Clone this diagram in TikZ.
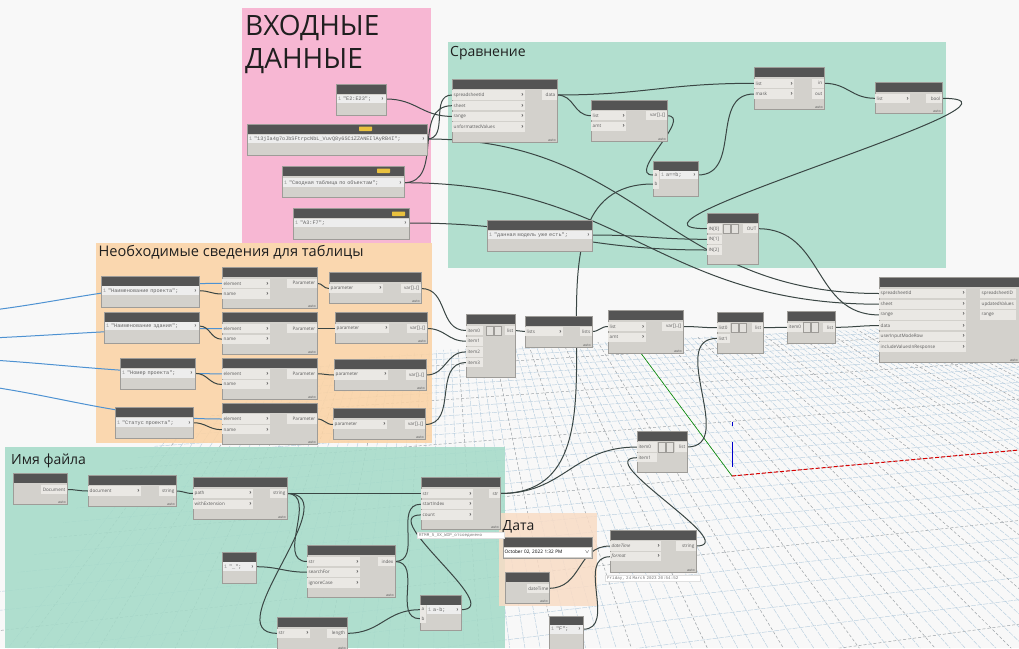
\documentclass[tikz,border=0pt]{standalone}
\usepackage{fontspec}
\setmainfont{Open Sans}
\newfontfamily\monof{Liberation Mono}
\usetikzlibrary{calc}
\definecolor{bgc}{HTML}{F8F8F8}
\definecolor{pinkc}{HTML}{F7B7D3}
\definecolor{tealc}{HTML}{B2DFCF}
\definecolor{orgc}{HTML}{FBD3A5}
\definecolor{teal2}{HTML}{A6DBC9}
\definecolor{datec}{HTML}{F9DCC5}
\definecolor{nhead}{HTML}{545454}
\definecolor{nbody}{HTML}{D3D1CC}
\definecolor{nport}{HTML}{EAE8E4}
\definecolor{codec}{HTML}{EDEDED}
\definecolor{nedge}{HTML}{9E9C98}
\definecolor{wirec}{HTML}{3A4644}
\definecolor{bluew}{HTML}{4E92D2}
\definecolor{gridminor}{HTML}{B8CEDF}
\definecolor{gridmajor}{HTML}{9DA3A8}
\definecolor{tagc}{HTML}{E9C13E}
\definecolor{txtc}{HTML}{5A5A5A}
\pgfdeclarelayer{bg}\pgfdeclarelayer{wires}\pgfsetlayers{bg,wires,main}
\tikzset{
 body/.style={draw=nedge, fill=nbody, line width=0.5pt, inner sep=0pt, anchor=north west},
 inport/.style={fill=nport, inner xsep=1.5pt, inner ysep=0pt, minimum height=9.4pt, font=\fontsize{4.6}{5}\selectfont, text=txtc, anchor=west, align=left},
 outport/.style={fill=nport, inner xsep=1.5pt, inner ysep=0pt, minimum height=9.4pt, font=\fontsize{4.6}{5}\selectfont, text=txtc, anchor=east, align=right},
 codeline/.style={fill=codec, inner xsep=1.5pt, inner ysep=0pt, minimum height=8.6pt, font=\monof\fontsize{5.2}{6}\selectfont, text=black!62, anchor=west, align=left},
 autol/.style={font=\fontsize{3.6}{4}\selectfont, text=txtc, inner sep=0.5pt, anchor=south east},
 wire/.style={draw=wirec, line width=1pt, out=0, in=180, looseness=1.15},
 bwire/.style={wire, draw=bluew, looseness=1},
 gtitle/.style={font=\fontsize{14}{16}\selectfont, text=black!88, anchor=base west, inner sep=0pt},
 preview/.style={fill=white, draw=black!12, font=\monof\fontsize{4.2}{5}\selectfont, text=black!55, inner xsep=2pt, inner ysep=1.2pt, anchor=north west, align=left},
 gridmin/.style={draw=gridminor, line width=0.45pt, dash pattern=on 5pt off 1.2pt},
 gridmaj/.style={draw=gridmajor, line width=0.5pt, dash pattern=on 3pt off 2pt},
}
\newcommand\chev{{\fontsize{6}{5}\selectfont\bfseries ›}}
\newcommand\dn[6]{%
  \pgfmathsetmacro\nw{#4-#2}\pgfmathsetmacro\nh{#5-#3}%
  \node[body, minimum width=\nw pt, minimum height=\nh pt] (#1) at (#2,#3) {};
  \fill[nhead] (#1.north west) rectangle ([yshift=-10pt]#1.north east);
  \draw[nedge,line width=0.5pt] (#1.north west) rectangle (#1.south east);
  \ifnum#6=1 \node[autol] (#1-auto) at ([shift={(-1pt,0.6pt)}]#1.south east) {auto};\fi
}
\newcommand\ip[5]{\node[inport, text width=#4pt] (#1) at (#2,#3) {#5\hfill\chev};}
\newcommand\ipn[5]{\node[inport, text width=#4pt] (#1) at (#2,#3) {#5};}
\newcommand\op[5]{\node[outport, text width=#4pt] (#1) at (#2,#3) {#5};}
\newcommand\cl[5]{\node[codeline, text width=#4pt] (#1) at (#2,#3) {{\color{black!40}1}\ #5\hfill\chev};}
\newcommand\sqb[2]{\filldraw[fill=nport!70!nbody, draw=nedge, line width=0.3pt] (#1,{#2-4.7}) rectangle ({#1+7},{#2+4.7});}
\newcommand\tagb[2]{\fill[tagc, rounded corners=0.6pt] (#1,#2) rectangle ({#1+13},{#2+4.5});}
\begin{document}
\begin{tikzpicture}[x=1pt,y=-1pt]
\useasboundingbox (0,0) rectangle (1019,648);
% ================= background =================
\begin{pgfonlayer}{bg}
\fill[bgc] (0,0) rectangle (1019,648);
\begin{scope}
 \clip (0,592) -- (100,482) -- (180,430) -- (250,398) -- (330,362) -- (440,350) -- (720,336) -- (1019,322) -- (1019,648) -- (0,648) -- cycle;
 \foreach \k in {-11,...,18}{
   \pgfmathsetmacro\gu{\k*0.03/(1+\k*0.03)}
   \pgfmathsetmacro\gpx{732-293*\gu}
   \pgfmathsetmacro\gpy{476-396*\gu}
   \pgfmathtruncatemacro\gm{mod(abs(\k),5)}
   \ifnum\gm=0 \def\gs{gridmaj}\else\def\gs{gridmin}\fi
   \draw[\gs] ({\gpx-0.3*(5100-\gpx)},{\gpy-0.3*(80-\gpy)}) -- (5100,80);
 }
 \foreach \j in {-56,...,57}{
   \pgfmathsetmacro\gu{\j*0.00228/(1+\j*0.00228)}
   \pgfmathsetmacro\gqx{732+4368*\gu}
   \pgfmathsetmacro\gqy{476-396*\gu}
   \pgfmathtruncatemacro\gm{mod(abs(\j),5)}
   \ifnum\gm=0 \def\gs{gridmaj}\else\def\gs{gridmin}\fi
   \draw[\gs] (439,80) -- ({439+2*(\gqx-439)},{80+2*(\gqy-80)});
 }
\end{scope}
% axes
\draw[draw=green!55!black, line width=0.6pt] (640,352) -- (732,476);
\draw[draw=red!85!black, line width=1pt, dash pattern=on 4pt off 2pt] (732,476) -- (1019,450);
\draw[draw=blue!80!black, line width=1pt] (732,442) -- (732,467);
\draw[draw=blue!80!black, line width=0.8pt] (732,422) -- (732,425.5);
% groups
\fill[pinkc] (242,8) rectangle (431,243);
\fill[tealc] (448,42) rectangle (946,268);
\fill[orgc, fill opacity=0.88] (96,243) rectangle (432,443);
\fill[teal2, fill opacity=0.88] (5,447) rectangle (505,648);
\fill[datec, fill opacity=0.85] (499,513) rectangle (597,606);
\end{pgfonlayer}
% titles
\node[gtitle, font=\fontsize{28}{30}\selectfont] (t1) at (245,35) {ВХОДНЫЕ};
\node[gtitle, font=\fontsize{28}{30}\selectfont] (t2) at (245,68.3) {ДАННЫЕ};
\node[gtitle] (t3) at (450,56.7) {Сравнение};
\node[gtitle, font=\fontsize{14.6}{16}\selectfont] (t4) at (98.5,256.7) {Необходимые сведения для таблицы};
\node[gtitle] (t5) at (11,464) {Имя файла};
\node[gtitle] (t6) at (502.5,530) {Дата};
% ================= nodes: input data =================
\dn{e2}{336}{84}{386}{115}{0}
\cl{e2l}{336.5}{99}{46}{"E2:E23";}
\dn{idn}{247}{124}{427}{155}{0}
\tagb{359}{126.5}
\cl{idl}{247.5}{139}{176}{"13jIa4g7oJbSFtrpcNbL\_VuvQ8y6SC1ZZANEIlAyRB4I";}
\dn{sv}{282}{166}{404}{197}{0}
\tagb{377}{168.5}
\cl{svl}{282.5}{182.7}{118}{"Сводная таблица по объектам";}
\dn{a3}{293}{208}{409}{239}{0}
\tagb{392}{211.5}
\cl{a3l}{293.5}{223}{112}{"A3:F7";}
% ================= comparison =================
\dn{gv}{452}{79}{557}{142}{1}
\ip{gvs}{452}{95}{70}{spreadsheetId}
\ip{gvsh}{452}{105.7}{70}{sheet}
\ip{gvr}{452}{116.4}{70}{range}
\ip{gvu}{452}{127.1}{70}{unformattedValues}
\op{gvd}{557}{95}{12}{data}
\dn{lf}{591}{100}{667}{141}{1}
\ip{lfl}{591}{115.7}{32}{list}
\ip{lfam}{591}{126.4}{32}{amt}
\op{lfo}{667}{115.7}{18}{var[]..[]}
\dn{eq}{653}{161}{698}{196}{0}
\ipn{eqa}{653}{175}{2.5}{a}
\ipn{eqb}{653}{184}{2.5}{b}
\cl{eqo}{659.5}{175}{35}{a==b;}
\dn{fb}{754}{67}{824}{109}{1}
\ip{fbl}{754}{83.3}{37}{list}
\ip{fbm}{754}{94}{37}{mask}
\op{fbi}{824}{83.3}{9}{in}
\op{fbo}{824}{94}{9}{out}
\dn{lb}{875}{82}{942}{113}{1}
\ip{lbl}{875}{98.3}{32}{list}
\op{lbo}{942}{98.3}{13}{bool}
\dn{dm}{487}{220}{592}{251}{0}
\cl{dml}{487.5}{235}{101}{"данная модель уже есть";}
\dn{ifn}{707}{213}{758}{264}{0}
\ipn{if0}{707}{228.7}{12}{IN[0]}
\ipn{if1}{707}{239.3}{12}{IN[1]}
\ipn{if2}{707}{250}{12}{IN[2]}
\sqb{723.5}{228.7}\sqb{731.5}{228.7}
\op{ifo}{758}{228.7}{12}{OUT}
% ================= necessary info =================
\dn{c1}{101}{276}{199}{307}{0}
\cl{c1l}{101.5}{290.7}{94}{"Наименование проекта";}
\dn{c2}{104}{312}{199}{343}{0}
\cl{c2l}{104.5}{326}{91}{"Наименование здания";}
\dn{c3}{120}{358}{195}{389}{0}
\cl{c3l}{120.5}{373.3}{71}{"Номер проекта";}
\dn{c4}{115}{407}{193}{438}{0}
\cl{c4l}{115.5}{422.7}{74}{"Статус проекта";}
\dn{g1}{222}{267}{317}{308}{1}
\ip{g1e}{222}{283.3}{45}{element}
\ip{g1n}{222}{294}{45}{name}
\op{g1o}{317}{283.3}{27}{Parameter}
\dn{g2}{222}{312}{317}{354}{1}
\ip{g2e}{222}{328.5}{45}{element}
\ip{g2n}{222}{339.2}{45}{name}
\op{g2o}{317}{328.5}{27}{Parameter}
\dn{g3}{222}{358}{317}{399}{1}
\ip{g3e}{222}{373.8}{45}{element}
\ip{g3n}{222}{384.5}{45}{name}
\op{g3o}{317}{373.8}{27}{Parameter}
\dn{g4}{222}{403}{317}{444}{1}
\ip{g4e}{222}{419}{45}{element}
\ip{g4n}{222}{429.7}{45}{name}
\op{g4o}{317}{419}{27}{Parameter}
\dn{pa}{329}{272}{421}{303}{1}
\ip{pai}{329}{288.5}{51}{parameter}
\op{pao}{421}{288.5}{17}{var[]..[]}
\dn{pb}{335}{312}{427}{343}{1}
\ip{pbi}{335}{328.5}{51}{parameter}
\op{pbo}{427}{328.5}{17}{var[]..[]}
\dn{pc}{334}{359}{426}{390}{1}
\ip{pci}{334}{375}{51}{parameter}
\op{pco}{426}{375}{17}{var[]..[]}
\dn{pd}{333}{408}{425}{439}{1}
\ip{pdi}{333}{424.5}{51}{parameter}
\op{pdo}{425}{424.5}{17}{var[]..[]}
% ================= middle chain =================
\dn{lc}{466}{314}{515}{377}{0}
\ipn{lc0}{466}{330.5}{14}{item0}
\ipn{lc1}{466}{341.2}{14}{item1}
\ipn{lc2}{466}{351.9}{14}{item2}
\ipn{lc3}{466}{362.6}{14}{item3}
\sqb{486.5}{330.5}\sqb{494.5}{330.5}
\op{lco}{515}{330.5}{7}{list}
\dn{tr}{525}{316}{592}{347}{1}
\ip{tri}{525}{331.5}{35}{lists}
\op{tro}{592}{331.5}{9}{lists}
\dn{lm}{608}{310}{683}{353}{1}
\ip{lml}{608}{326.5}{34.5}{list}
\ip{lmam}{608}{337.2}{34.5}{amt}
\op{lmo}{683}{326.5}{18}{var[]..[]}
\dn{ll}{717}{312}{763}{353}{0}
\ipn{ll0}{717}{327.7}{10}{list0}
\ipn{ll1}{717}{338.4}{10}{list1}
\sqb{731.5}{327.7}\sqb{739.5}{327.7}
\op{llo}{763}{327.7}{8}{list}
\dn{it}{787}{311}{835}{343}{0}
\ipn{iti}{787}{327.3}{13}{item0}
\sqb{803.5}{327.3}\sqb{811.5}{327.3}
\op{ito}{835}{327.3}{9}{list}
\dn{setv}{879}{277}{1019}{362}{1}
\ip{sts}{879}{293.5}{84}{spreadsheetId}
\ip{stsh}{879}{304.2}{84}{sheet}
\ip{str}{879}{314.9}{84}{range}
\ip{std}{879}{325.6}{84}{data}
\ip{stu}{879}{336.3}{84}{userInputModeRow}
\ip{sti}{879}{347}{84}{includeValuesInResponse}
\node[outport, anchor=west, align=left, text width=33pt] (sto1) at (980,293.5) {spreadsheetID};
\node[outport, anchor=west, align=left, text width=33pt] (sto2) at (980,304.2) {updatedValues};
\node[outport, anchor=west, align=left, text width=33pt] (sto3) at (980,314.9) {range};
% ================= bottom: list + date =================
\dn{lcb}{637}{431}{687}{472}{0}
\ipn{lcb0}{637}{447}{17}{item0}
\ipn{lcb1}{637}{457.7}{17}{item1}
\sqb{658.5}{447}\sqb{666.5}{447}
\op{lcbo}{687}{447}{9}{list}
\dn{df}{610}{530}{696}{572}{1}
\ip{dfd}{610}{546}{48}{\textit{dateTime}}
\ip{dff}{610}{556.7}{48}{\textit{format}}
\op{dfo}{696}{546}{17}{string}
\node[preview, text width=91pt] (dfp) at (605,575) {Friday, 24 March 2023 20:54:52};
\dn{dp}{503}{537}{592}{558}{0}
\node[fill=white, inner xsep=1pt, inner ysep=0pt, minimum height=8.5pt, anchor=west, align=left, text width=85pt, font=\fontsize{4.7}{5}\selectfont] (dpf) at (503.5,552.5) {October 02, 2022 1:32 PM\hfill$\scriptscriptstyle\vee$};
\dn{dnow}{505}{572}{549}{603}{1}
\op{dno}{549}{588.3}{19}{dateTime}
\dn{fc}{549}{616}{583}{650}{0}
\cl{fcl}{549.5}{629.3}{30}{"F";}
% ================= file name =================
\dn{dc}{13}{473}{67}{504}{1}
\op{dco}{67}{489.5}{23}{Document}
\dn{ds}{88}{475}{176}{506}{1}
\ip{dsi}{88}{491}{50}{document}
\op{dso}{176}{491}{14}{string}
\dn{fn}{193}{477}{287}{519}{1}
\ip{fnp}{193}{493.5}{57}{path}
\ip{fnw}{193}{504.2}{57}{withExtension}
\op{fno}{287}{493.5}{14}{string}
\dn{uc}{222}{552}{256}{583}{0}
\cl{ucl}{222.5}{566.7}{30}{"\_";}
\dn{io}{307}{545}{395}{597}{1}
\ip{ios}{307}{561.5}{50}{str}
\ip{iof}{307}{572.2}{50}{searchFor}
\ip{ioi}{307}{582.9}{50}{ignoreCase}
\op{ioo}{395}{561.5}{14}{index}
\dn{ss}{421}{477}{500}{529}{1}
\ip{sss}{421}{493.5}{49}{str}
\ip{ssi}{421}{504.2}{49}{startIndex}
\ip{ssc}{421}{514.9}{49}{count}
\op{sso}{500}{493.5}{8}{str}
\node[preview, text width=83pt] (ssp) at (417,532) {RTMM\_5\_XX\_WIP\_отсоединено};
\dn{ab}{420}{595}{461}{630}{0}
\ipn{aba}{420}{609.7}{2.5}{a}
\ipn{abb}{420}{618.7}{2.5}{b}
\cl{abo}{426.5}{609.7}{31}{a-b;}
\dn{ln}{277}{617}{347}{650}{1}
\ip{lni}{277}{633.3}{30}{str}
\op{lno}{347}{633.3}{17}{length}
% ================= wires =================
\coordinate (bs1) at (-100,316);
\coordinate (bs2) at (-100,340);
\coordinate (bs3) at (-100,357);
\coordinate (bs4) at (-100,380);
\begin{pgfonlayer}{wires}
\draw[bwire] (bs1) to (g1e.west);
\draw[bwire] (bs2) to (g2e.west);
\draw[bwire] (bs3) to (g3e.west);
\draw[bwire] (bs4) to (g4e.west);
% input data
\draw[wire] (e2l.east) to (gvr.west);
\draw[wire] (idl.east) to (gvs.west);
\draw[wire] (svl.east) to (gvsh.west);
\draw[wire] (idl.east) to (sts.west);
\draw[wire] (svl.east) to (stsh.west);
\draw[wire] (a3l.east) to (if2.west);
\draw[wire] (dml.east) to (if1.west);
\draw[wire] (ifo.east) to (str.west);
% comparison
\draw[wire] (gvd.east) to (lfl.west);
\draw[wire] (gvd.east) to (fbl.west);
\draw[wire] (lfo.east) to (eqa.west);
\draw[wire] (eqo.east) to (fbm.west);
\draw[wire] (fbi.east) to (lbl.west);
\draw[wire] (lbo.east) to (if0.west);
\draw[wire] (sso.east) to (eqb.west);
% info
\draw[wire] (c1l.east) to (g1n.west);
\draw[wire] (c2l.east) to (g2n.west);
\draw[wire] (c3l.east) to (g3n.west);
\draw[wire] (c4l.east) to (g4n.west);
\draw[wire] (g1o.east) to (pai.west);
\draw[wire] (g2o.east) to (pbi.west);
\draw[wire] (g3o.east) to (pci.west);
\draw[wire] (g4o.east) to (pdi.west);
\draw[wire] (pao.east) to (lc0.west);
\draw[wire] (pbo.east) to (lc1.west);
\draw[wire] (pco.east) to (lc2.west);
\draw[wire] (pdo.east) to (lc3.west);
\draw[wire] (lco.east) to (tri.west);
\draw[wire] (tro.east) to (lml.west);
\draw[wire] (lmo.east) to (ll0.west);
\draw[wire] (lcbo.east) to (ll1.west);
\draw[wire] (llo.east) to (iti.west);
\draw[wire] (ito.east) to (std.west);
% file
\draw[wire] (dco.east) to (dsi.west);
\draw[wire] (dso.east) to (fnp.west);
\draw[wire] (fno.east) to (sss.west);
\draw[wire] (fno.east) to (ios.west);
\draw[wire] (fno.east) to (lni.west);
\draw[wire] (ucl.east) to (iof.west);
\draw[wire] (ioo.east) to (ssi.west);
\draw[wire] (ioo.east) to (abb.west);
\draw[wire] (lno.east) to (aba.west);
\draw[wire] (abo.east) to (ssc.west);
\draw[wire] (sso.east) to (lcb0.west);
% date
\draw[wire] (dno.east) to (dfd.west);
\draw[wire] (fcl.east) to (dff.west);
\draw[wire] (dfo.east) to (lcb1.west);
\end{pgfonlayer}
\end{tikzpicture}
\end{document}
